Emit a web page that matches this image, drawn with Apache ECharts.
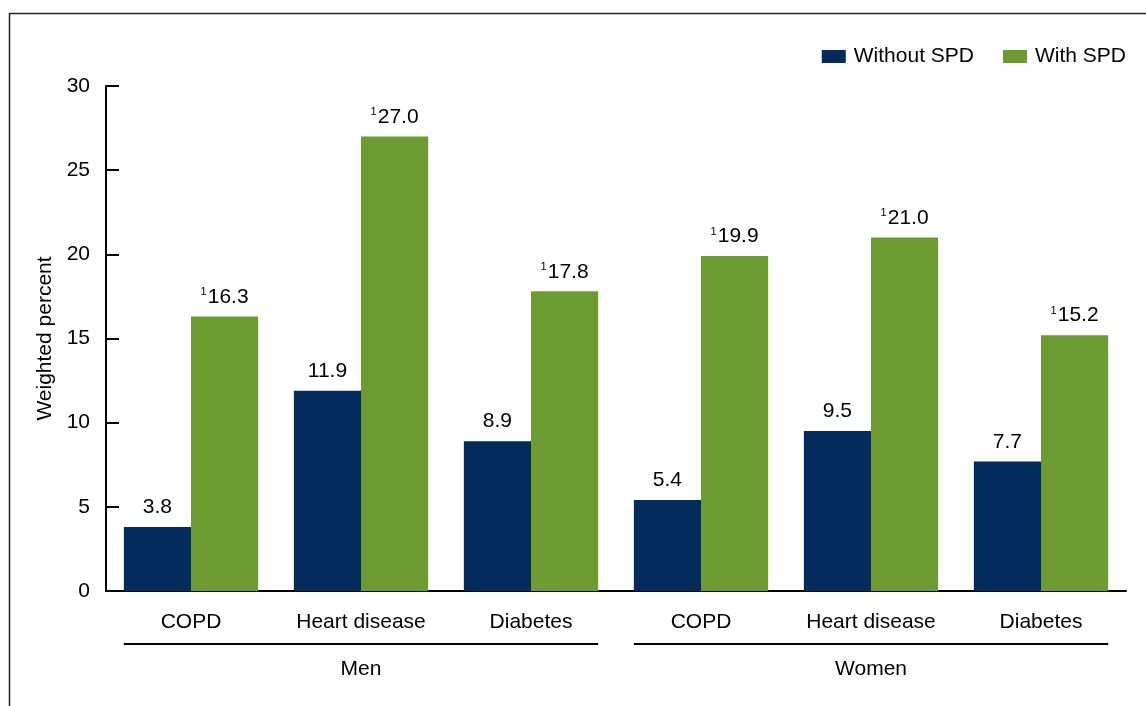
<!DOCTYPE html>
<html>
<head>
<meta charset="utf-8">
<script src="https://cdn.jsdelivr.net/npm/echarts@6/dist/echarts.min.js"></script>
<style>
html,body{margin:0;padding:0;background:#fff;}
#c{width:1146px;height:706px;}
</style>
</head>
<body>
<div id="c"></div>
<script>
const categories = ['COPD', 'Heart disease', 'Diabetes', 'COPD', 'Heart disease', 'Diabetes'];
const groups = ['Men', 'Women'];
const groupSize = 3;
const withoutSPD = [3.8, 11.9, 8.9, 5.4, 9.5, 7.7];
const withSPD = [16.3, 27.0, 17.8, 19.9, 21.0, 15.2];
const yTicks = { min: 0, max: 30, interval: 5 };
const seriesNames = ['Without SPD', 'With SPD'];

const FONT = '"Liberation Sans", Arial, Helvetica, sans-serif';
const FS = 21;
const NAVY = '#032c5c';
const GREEN = '#6c9c31';
const CAT_GAP = 0.21;

const chart = echarts.init(document.getElementById('c'), null, { renderer: 'canvas' });

const option = {
  animation: false,
  backgroundColor: '#fff',
  textStyle: { fontFamily: FONT, color: '#000' },
  legend: {
    right: 15,
    top: 41,
    itemWidth: 24,
    itemHeight: 13,
    itemGap: 29,
    icon: 'rect',
    textStyle: { fontFamily: FONT, fontSize: FS, color: '#000', padding: [0, 0, 0, 3] },
    data: seriesNames
  },
  grid: { left: 106, right: 20, top: 86, bottom: 115, containLabel: false },
  xAxis: {
    type: 'category',
    data: categories,
    axisLine: { lineStyle: { color: '#000', width: 2 } },
    axisTick: { show: false },
    axisLabel: { fontFamily: FONT, fontSize: FS, color: '#000', margin: 21, interval: 0 }
  },
  yAxis: {
    type: 'value',
    min: yTicks.min,
    max: yTicks.max,
    interval: yTicks.interval,
    name: 'Weighted percent',
    nameLocation: 'middle',
    nameGap: 50,
    nameTextStyle: { fontFamily: FONT, fontSize: FS, color: '#000' },
    axisLine: { show: true, lineStyle: { color: '#000', width: 2 } },
    axisTick: { show: true, inside: true, length: 13, lineStyle: { color: '#000', width: 2 } },
    splitLine: { show: false },
    axisLabel: { fontFamily: FONT, fontSize: FS, color: '#000', margin: 16 }
  },
  series: [
    {
      name: seriesNames[0],
      type: 'bar',
      data: withoutSPD,
      barGap: '0%',
      barCategoryGap: (CAT_GAP * 100) + '%',
      itemStyle: { color: NAVY },
      label: {
        show: true, position: 'top', distance: 9,
        fontFamily: FONT, fontSize: FS, color: '#000',
        formatter: p => p.value.toFixed(1)
      }
    },
    {
      name: seriesNames[1],
      type: 'bar',
      data: withSPD,
      barGap: '0%',
      barCategoryGap: (CAT_GAP * 100) + '%',
      itemStyle: { color: GREEN },
      label: {
        show: true, position: 'top', distance: 9,
        fontFamily: FONT, fontSize: FS, color: '#000',
        formatter: p => '{sup|1}' + p.value.toFixed(1),
        rich: {
          sup: { fontFamily: FONT, fontSize: 11, color: '#000', verticalAlign: 'top', padding: [0, 1, 9, 0] }
        }
      }
    }
  ]
};
chart.setOption(option);

// Group underlines and labels, positioned from the category scale
function buildGraphics() {
  const els = [];
  const p0 = chart.convertToPixel({ xAxisIndex: 0 }, 0);
  const p1 = chart.convertToPixel({ xAxisIndex: 0 }, 1);
  const step = p1 - p0;
  const barHalfGroup = step * (1 - CAT_GAP) / 2;
  const lineY = 644;
  groups.forEach((g, gi) => {
    const first = chart.convertToPixel({ xAxisIndex: 0 }, gi * groupSize);
    const last = chart.convertToPixel({ xAxisIndex: 0 }, gi * groupSize + groupSize - 1);
    const x1 = first - barHalfGroup;
    const x2 = last + barHalfGroup;
    els.push({
      type: 'line',
      shape: { x1: x1, y1: lineY, x2: x2, y2: lineY },
      style: { stroke: '#000', lineWidth: 2 }
    });
    els.push({
      type: 'text',
      x: (x1 + x2) / 2,
      y: 669,
      style: { text: g, font: FS + 'px ' + FONT, fill: '#000', align: 'center', verticalAlign: 'middle' }
    });
  });
  // outer frame
  els.push({
    type: 'rect',
    shape: { x: 9.5, y: 13.5, width: 1300, height: 800 },
    style: { fill: 'none', stroke: '#222', lineWidth: 1.5 },
    z: 100
  });
  chart.setOption({ graphic: els });
}
buildGraphics();
</script>
</body>
</html>
